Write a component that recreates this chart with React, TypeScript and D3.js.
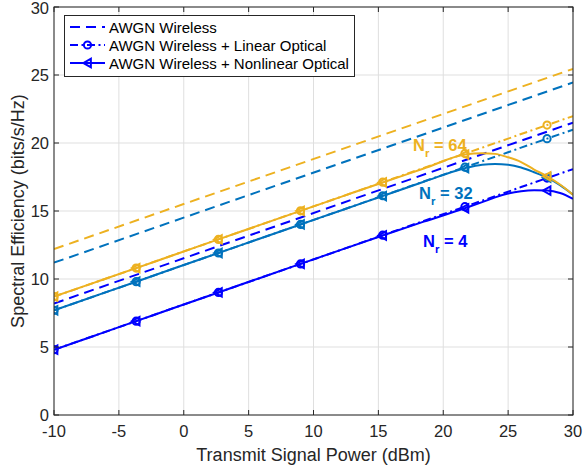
import React from "react";
import * as d3 from "d3";

const W = 584;
const H = 467;
const margin = { left: 54, right: 11, top: 7, bottom: 52 };

// x grid (dBm) shared by optical series
const powerDbm = [-10, -6.83, -3.67, -0.5, 2.67, 5.83, 9, 12.17, 15.33, 18.5, 21.67, 23, 24, 25, 26, 27, 28, 29, 30];
const markerIdx = [0, 2, 4, 6, 8, 10, 16];

// AWGN wireless (straight lines, endpoints)
const awgnX = [-10, 30];
const awgn4 = [8.2, 21.5];
const awgn32 = [11.2, 24.45];
const awgn64 = [12.2, 25.45];

// AWGN wireless + linear optical
const lin4 = [4.8, 5.85, 6.9, 7.96, 9.01, 10.06, 11.11, 12.16, 13.22, 14.27, 15.32, 15.76, 16.09, 16.42, 16.76, 17.09, 17.42, 17.75, 18.08];
const lin32 = [7.7, 8.75, 9.8, 10.86, 11.91, 12.96, 14.01, 15.06, 16.12, 17.17, 18.22, 18.66, 18.99, 19.32, 19.66, 19.99, 20.32, 20.65, 20.98];
const lin64 = [8.7, 9.75, 10.8, 11.86, 12.91, 13.96, 15.01, 16.06, 17.12, 18.17, 19.22, 19.66, 19.99, 20.32, 20.66, 20.99, 21.32, 21.65, 21.98];

// AWGN wireless + nonlinear optical
const nl4 = [4.8, 5.85, 6.9, 7.96, 9.01, 10.06, 11.11, 12.16, 13.2, 14.22, 15.2, 15.65, 16.0, 16.28, 16.45, 16.52, 16.5, 16.32, 15.9];
const nl32 = [7.7, 8.75, 9.8, 10.86, 11.91, 12.96, 14.01, 15.06, 16.1, 17.15, 18.15, 18.4, 18.45, 18.4, 18.2, 17.85, 17.45, 16.9, 16.2];
const nl64 = [8.7, 9.75, 10.8, 11.86, 12.91, 13.96, 15.01, 16.06, 17.1, 18.12, 19.15, 19.25, 19.2, 18.95, 18.6, 18.05, 17.55, 16.95, 16.2];

const xTicks = [-10, -5, 0, 5, 10, 15, 20, 25, 30];
const yTicks = [0, 5, 10, 15, 20, 25, 30];

const colors = { n4: "#0000ff", n32: "#0072bd", n64: "#edb120" };
const legendLabels = ["AWGN Wireless", "AWGN Wireless + Linear Optical", "AWGN Wireless + Nonlinear Optical"];

const groups = [
  { key: "n4", color: colors.n4, awgn: awgn4, lin: lin4, nl: nl4, label: "4", lx: 423, ly: 247 },
  { key: "n32", color: colors.n32, awgn: awgn32, lin: lin32, nl: nl32, label: "32", lx: 419, ly: 199 },
  { key: "n64", color: colors.n64, awgn: awgn64, lin: lin64, nl: nl64, label: "64", lx: 413, ly: 151 },
];

const AX = "#262626";
const FONT = "'Liberation Sans', Arial, Helvetica, sans-serif";

function triLeft(cx: number, cy: number, s: number) {
  return `M${cx - s},${cy} L${cx + s * 0.8},${cy - s} L${cx + s * 0.8},${cy + s} Z`;
}

export default function App() {
  const x = d3.scaleLinear().domain([-10, 30]).range([margin.left, W - margin.right]);
  const y = d3.scaleLinear().domain([0, 30]).range([H - margin.bottom, margin.top]);
  const x0 = margin.left, x1 = W - margin.right, y0 = H - margin.bottom, y1 = margin.top;

  const lineXY = d3.line<[number, number]>().x((d) => x(d[0])).y((d) => y(d[1]));
  const lineSmooth = d3.line<[number, number]>().x((d) => x(d[0])).y((d) => y(d[1])).curve(d3.curveMonotoneX);

  const zip = (xs: number[], ys: number[]) => xs.map((v, i) => [v, ys[i]] as [number, number]);

  const dash = "10,6";
  const dashDot = "8,3.5,2,3.5";
  const triS = 4.2;

  return (
    <svg width={W} height={H} style={{ position: "absolute", left: 0, top: 0, background: "#fff" }} fontFamily={FONT}>
      <rect x={0} y={0} width={W} height={H} fill="#fff" />
      {/* grid */}
      <g stroke="#dfdfdf" strokeWidth={1}>
        {xTicks.map((t) => (
          <line key={"gx" + t} x1={x(t)} x2={x(t)} y1={y1} y2={y0} />
        ))}
        {yTicks.map((t) => (
          <line key={"gy" + t} x1={x0} x2={x1} y1={y(t)} y2={y(t)} />
        ))}
      </g>
      <defs>
        <clipPath id="plotclip">
          <rect x={x0} y={y1} width={x1 - x0} height={y0 - y1} />
        </clipPath>
      </defs>
      {/* series */}
      <g clipPath="url(#plotclip)" fill="none" strokeWidth={2}>
        {groups.map((g) => (
          <g key={g.key} stroke={g.color}>
            <path d={lineXY(zip(awgnX, g.awgn)) || ""} strokeDasharray={dash} />
            <path d={lineXY(zip(powerDbm, g.lin)) || ""} strokeDasharray={dashDot} />
            {markerIdx.map((i) => (
              <circle key={"c" + i} cx={x(powerDbm[i])} cy={y(g.lin[i])} r={3.6} />
            ))}
            <path d={lineSmooth(zip(powerDbm, g.nl)) || ""} />
            {markerIdx.map((i) => (
              <path key={"t" + i} d={triLeft(x(powerDbm[i]), y(g.nl[i]), triS)} strokeLinejoin="miter" />
            ))}
          </g>
        ))}
      </g>
      {/* N_r labels */}
      {groups.map((g) => (
        <text key={"lab" + g.key} x={g.lx} y={g.ly} fill={g.color} fontWeight="bold" fontSize={16.5}>
          N
          <tspan fontSize={11.5} dy={6}>r</tspan>
          <tspan dy={-6}>{" = " + g.label}</tspan>
        </text>
      ))}
      {/* axes box */}
      <rect x={x0} y={y1} width={x1 - x0} height={y0 - y1} fill="none" stroke={AX} strokeWidth={1} />
      <g stroke={AX} strokeWidth={1}>
        {xTicks.map((t) => (
          <g key={"tx" + t}>
            <line x1={x(t)} x2={x(t)} y1={y0} y2={y0 - 5} />
            <line x1={x(t)} x2={x(t)} y1={y1} y2={y1 + 5} />
          </g>
        ))}
        {yTicks.map((t) => (
          <g key={"ty" + t}>
            <line x1={x0} x2={x0 + 5} y1={y(t)} y2={y(t)} />
            <line x1={x1} x2={x1 - 5} y1={y(t)} y2={y(t)} />
          </g>
        ))}
      </g>
      <g fill={AX} fontSize={16.5}>
        {xTicks.map((t) => (
          <text key={"lx" + t} x={x(t)} y={y0 + 22} textAnchor="middle">
            {t}
          </text>
        ))}
        {yTicks.map((t) => (
          <text key={"ly" + t} x={x0 - 5} y={Math.max(y(t) + 6, 13.5)} textAnchor="end">
            {t}
          </text>
        ))}
      </g>
      <text x={(x0 + x1) / 2} y={461} textAnchor="middle" fill={AX} fontSize={18}>
        Transmit Signal Power (dBm)
      </text>
      <text transform={`translate(24,${(y0 + y1) / 2}) rotate(-90)`} textAnchor="middle" fill={AX} fontSize={18}>
        Spectral Efficiency (bits/s/Hz)
      </text>
      {/* legend */}
      <g>
        <rect x={64.5} y={15.5} width={290} height={61} fill="#fff" stroke={AX} strokeWidth={1} />
        {legendLabels.map((lab, i) => {
          const ly = 27 + i * 18;
          return (
            <g key={"leg" + i}>
              <line x1={70} x2={105} y1={ly} y2={ly} stroke={colors.n4} strokeWidth={2}
                strokeDasharray={i === 0 ? dash : i === 1 ? dashDot : undefined} />
              {i === 1 && <circle cx={87.5} cy={ly} r={3.6} fill="none" stroke={colors.n4} strokeWidth={2} />}
              {i === 2 && <path d={triLeft(87.5, ly, triS)} fill="none" stroke={colors.n4} strokeWidth={2} />}
              <text x={109} y={ly + 5.5} fontSize={15} fill="#000">
                {lab}
              </text>
            </g>
          );
        })}
      </g>
    </svg>
  );
}
